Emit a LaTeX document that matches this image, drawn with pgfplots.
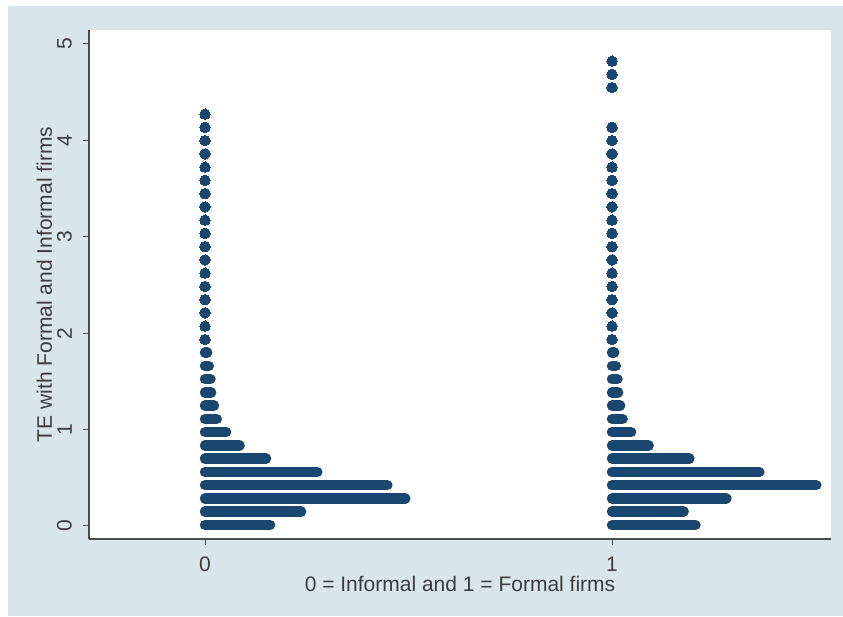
\documentclass[border=0pt]{standalone}
\usepackage{fontspec}
\setmainfont{Liberation Sans}
\usepackage{pgfplots}
\pgfplotsset{compat=1.18}
\definecolor{stbg}{RGB}{216,229,235}
\definecolor{navy}{RGB}{26,71,111}
\definecolor{axgray}{RGB}{75,75,75}
\definecolor{txt}{RGB}{60,60,60}

% multi-dot rows: segments from group position to the last dot
\pgfplotstableread{
x y
0 0.010
0.160 0.010
nan nan
0 0.148
0.236 0.148
nan nan
0 0.285
0.492 0.285
nan nan
0 0.423
0.448 0.423
nan nan
0 0.560
0.276 0.560
nan nan
0 0.698
0.150 0.698
nan nan
0 0.835
0.085 0.835
nan nan
0 0.973
0.052 0.973
nan nan
0 1.110
0.029 1.110
nan nan
0 1.248
0.022 1.248
nan nan
0 1.385
0.015 1.385
nan nan
0 1.523
0.0135 1.523
nan nan
0 1.660
0.0093 1.660
nan nan
0 1.798
0.0054 1.798
nan nan
1 0.010
1.205 0.010
nan nan
1 0.148
1.176 0.148
nan nan
1 0.285
1.281 0.285
nan nan
1 0.423
1.502 0.423
nan nan
1 0.560
1.362 0.560
nan nan
1 0.698
1.190 0.698
nan nan
1 0.835
1.090 0.835
nan nan
1 0.973
1.047 0.973
nan nan
1 1.110
1.026 1.110
nan nan
1 1.248
1.020 1.248
nan nan
1 1.385
1.015 1.385
nan nan
1 1.523
1.0135 1.523
nan nan
1 1.660
1.0093 1.660
nan nan
1 1.798
1.0054 1.798
}\rows

% single dots
\pgfplotstableread{
x y
0 1.935
0 2.073
0 2.210
0 2.348
0 2.485
0 2.623
0 2.760
0 2.898
0 3.035
0 3.173
0 3.310
0 3.448
0 3.585
0 3.723
0 3.860
0 3.998
0 4.135
0 4.273
1 1.935
1 2.073
1 2.210
1 2.348
1 2.485
1 2.623
1 2.760
1 2.898
1 3.035
1 3.173
1 3.310
1 3.448
1 3.585
1 3.723
1 3.860
1 3.998
1 4.135
1 4.548
1 4.685
1 4.823
}\singles

\begin{document}
\begin{tikzpicture}[x=1pt,y=1pt]
\useasboundingbox (0,0) rectangle (843,616);
\fill[white] (0,0) rectangle (843,616);
\fill[stbg] (8,0) rectangle (843,610);
\fill[white] (89,77) rectangle (831,586);
\begin{axis}[
  at={(89pt,77pt)}, anchor=south west,
  scale only axis, width=742pt, height=509pt,
  xmin=-0.285, xmax=1.538, ymin=-0.135, ymax=5.145,
  axis x line=bottom, axis y line=left,
  axis line style={-, axgray, line width=1.3pt},
  xtick={0,1}, ytick={0,1,2,3,4,5},
  tick align=outside, major tick length=6pt,
  tick style={axgray, line width=1pt},
  /pgf/number format/assume math mode=true,
  ticklabel style={font=\fontsize{21}{24}\selectfont, text=txt},
  xticklabel style={anchor=north, inner sep=0pt, yshift=-12pt},
  yticklabel style={xshift=-11pt, rotate=90, anchor=south, inner sep=0pt},
  xlabel={0 = Informal and 1 = Formal firms},
  ylabel={TE with Formal and Informal firms},
  label style={font=\fontsize{21}{24}\selectfont, text=txt},
  xlabel style={at={(axis description cs:0.5,-0.1025)}, anchor=base, inner sep=0pt},
  ylabel style={at={(axis description cs:-0.0499,0.5)}, anchor=base, inner sep=0pt},
  unbounded coords=jump,
]
\addplot[navy, line width=10.5pt, line cap=round] table[x=x,y=y] {\rows};
\addplot[only marks, mark=*, mark size=5.25pt, mark options={fill=navy, draw=navy, line width=0pt}] table[x=x,y=y] {\singles};
\end{axis}
\end{tikzpicture}
\end{document}
